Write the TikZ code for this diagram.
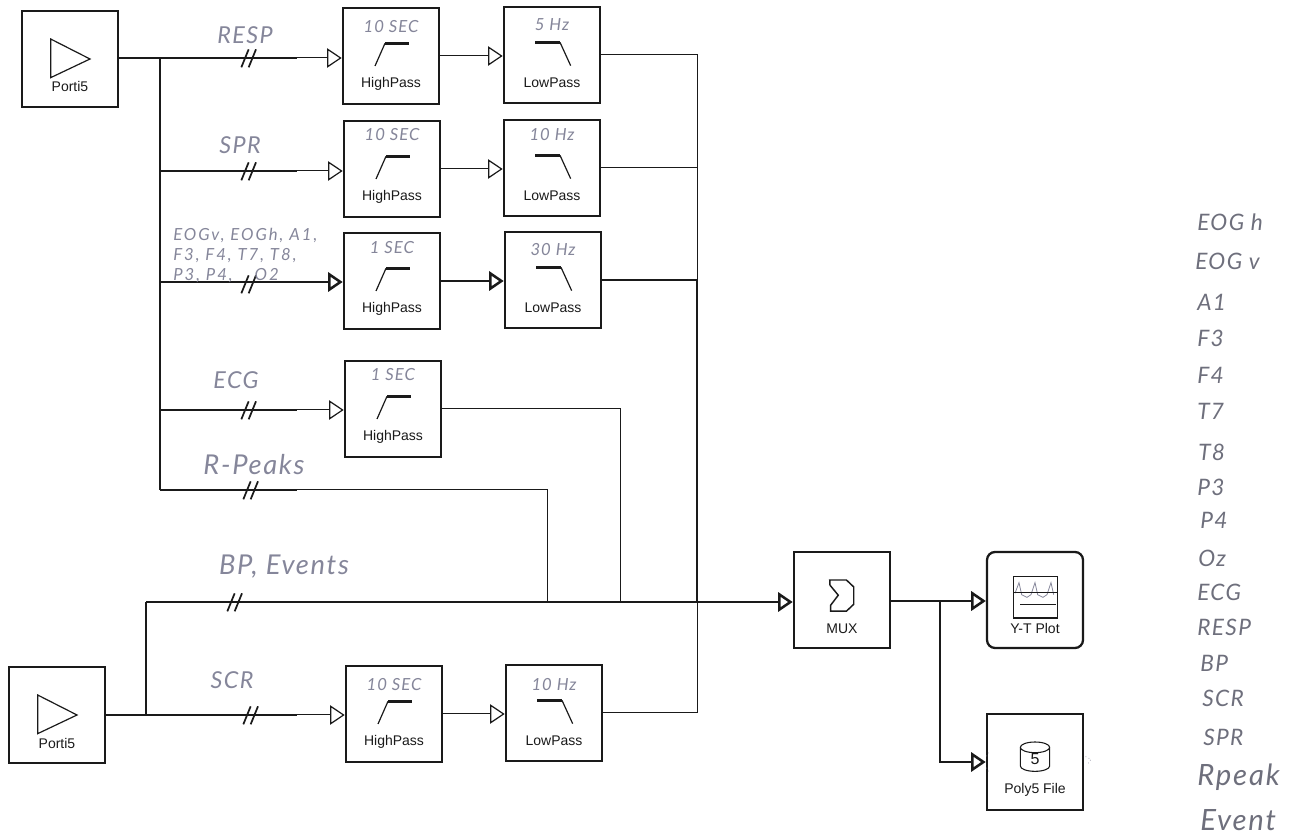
\documentclass[tikz,border=0pt]{standalone}
\usepackage{fontspec}
\setmainfont{Liberation Sans}
\newfontfamily\hand[LetterSpace=6]{Lato}
\newfontfamily\handwide[LetterSpace=12]{Lato}
\usetikzlibrary{arrows.meta}
\definecolor{hw}{HTML}{85869A}
\definecolor{hwd}{HTML}{6E6F7C}
\definecolor{ln}{HTML}{1A1A1A}
\tikzset{
 blk/.style={draw=ln,line width=1.9pt,fill=white,minimum width=72pt,minimum height=72pt,inner sep=0pt},
 lbl/.style={font=\fontsize{10.5}{12}\selectfont,text=ln,inner sep=0pt},
 hwb/.style={font=\fontsize{12.5}{13}\hand\itshape\selectfont,text=hw,inner sep=0pt},
 hwc/.style={font=\fontsize{12.5}{14}\handwide\itshape\selectfont,text=hw,inner sep=0pt,anchor=west},
 hwl/.style={font=\fontsize{17.5}{18}\hand\itshape\selectfont,text=hw,inner sep=0pt},
 hwk/.style={font=\fontsize{20.5}{21}\hand\itshape\selectfont,text=hw,inner sep=0pt},
 hwr/.style={font=\fontsize{17}{18}\hand\itshape\selectfont,text=hwd,inner sep=0pt,anchor=west},
 hwq/.style={font=\fontsize{22}{23}\hand\itshape\selectfont,text=hwd,inner sep=0pt,anchor=west},
 thick line/.style={draw=ln,line width=2.25pt},
 mid line/.style={draw=ln,line width=1.5pt},
 thin line/.style={draw=ln,line width=.75pt},
 thin arrow/.style={draw=ln,line width=.75pt,-{Triangle[open,length=11pt,width=14.5pt,line width=.9pt]}},
 heavy arrow/.style={draw=ln,line width=1.5pt,-{Triangle[open,length=11pt,width=14.5pt,line width=1.9pt]}},
 slashes/.style={draw=ln,line width=1.3pt},
 icon/.style={draw=ln,line width=.9pt},
 iconb/.style={draw=ln,line width=1.8pt},
}
% name, centre x, centre y, handwritten text, y of the handwritten text
\newcommand\hpblk[5]{%
 \node[blk] (#1) at (#2,#3) {};
 \node[lbl] (#1t) at ([yshift=-21pt]#1.center) {HighPass};
 \node[hwb] (#1h) at (#2,#5) {#4};
 \draw[icon] ([shift={(-12pt,-7.5pt)}]#1.center) -- ([shift={(-4.5pt,9.5pt)}]#1.center);
 \draw[iconb] ([shift={(-4.5pt,9.5pt)}]#1.center) -- ([shift={(13.5pt,9.5pt)}]#1.center);
}
\newcommand\lpblk[5]{%
 \node[blk] (#1) at (#2,#3) {};
 \node[lbl] (#1t) at ([yshift=-21pt]#1.center) {LowPass};
 \node[hwb] (#1h) at (#2,#5) {#4};
 \draw[iconb] ([shift={(-12.5pt,9.5pt)}]#1.center) -- ([shift={(6pt,9.5pt)}]#1.center);
 \draw[icon] ([shift={(6pt,9.5pt)}]#1.center) -- ([shift={(14pt,-8pt)}]#1.center);
}
\newcommand\portiblk[3]{%
 \node[blk] (#1) at (#2,#3) {};
 \node[lbl] (#1t) at ([yshift=-21pt]#1.center) {Porti5};
 \draw[icon] ([shift={(-14.5pt,15pt)}]#1.center) -- ([shift={(15pt,0pt)}]#1.center) -- ([shift={(-14.5pt,-14pt)}]#1.center) -- cycle;
}
\newcommand\brk[1]{%
 \draw[slashes] ([shift={(-5pt,-7pt)}]#1) -- ([shift={(.5pt,6.5pt)}]#1);
 \draw[slashes] ([shift={(.5pt,-7pt)}]#1) -- ([shift={(6pt,6.5pt)}]#1);
}
\begin{document}
\begin{tikzpicture}[x=.75pt,y=-.75pt]
\useasboundingbox (0,0) rectangle (1290,837);
% blocks
\portiblk{pa}{70}{59}
\portiblk{pb}{57}{715}
\hpblk{hpa}{391}{56}{10 SEC}{27}
\lpblk{lpa}{552}{55}{5 Hz}{25}
\hpblk{hpb}{392}{169}{10 SEC}{135}
\lpblk{lpb}{552}{168}{10 Hz}{135}
\hpblk{hpc}{392}{281}{1 SEC}{248}
\lpblk{lpc}{553}{280}{30 Hz}{250}
\hpblk{hpd}{393}{409}{1 SEC}{375}
\hpblk{hpe}{394}{714}{10 SEC}{685}
\lpblk{lpe}{554}{713}{10 Hz}{685}
\node[blk] (mux) at (842,600) {};
\node[lbl] (muxt) at ([yshift=-21.5pt]mux.center) {MUX};
\draw[icon,line width=1.1pt] ([shift={(-9.2pt,15pt)}]mux.center) -- ++(12.5pt,0) -- ++(5.5pt,-5.2pt) -- ++(0,-13pt) -- ++(-5.5pt,-5.2pt) -- ++(-11.8pt,0) -- ++(0,4.5pt) -- ++(5.7pt,7.5pt) -- ++(-6.2pt,7.5pt) -- cycle;
\node[blk,rounded corners=6pt,line width=1.7pt] (yt) at (1035,600) {};
\node[lbl] (ytt) at ([yshift=-21pt]yt.center) {Y-T Plot};
\draw[draw=ln,line width=1pt,fill=white] ([shift={(-16pt,17.5pt)}]yt.center) rectangle ([shift={(17pt,-13.5pt)}]yt.center);
\draw[draw=hw,line width=.6pt] ([shift={(-15pt,5pt)}]yt.center) -- ++(3pt,8pt) -- ++(2pt,-9pt) -- ++(4pt,-2pt) -- ++(3pt,2pt) -- ++(3pt,9pt) -- ++(2pt,-9pt) -- ++(4pt,-2pt) -- ++(3pt,2pt) -- ++(3pt,9pt) -- ++(2pt,-9pt);
\draw[draw=ln,line width=.5pt] ([shift={(-15.5pt,5.5pt)}]yt.center) -- ([shift={(16.5pt,5.5pt)}]yt.center);
\draw[draw=ln,line width=.9pt] ([shift={(-11pt,-3.5pt)}]yt.center) -- ([shift={(16pt,-3.5pt)}]yt.center);
\node[blk] (pf) at (1035,762) {};
\node[lbl] (pft) at ([yshift=-21pt]pf.center) {Poly5 File};
\draw[icon,line width=.8pt,fill=white] ([shift={(-11pt,11pt)}]pf.center) -- ([shift={(-11pt,-3pt)}]pf.center) arc[start angle=180,end angle=360,x radius=11pt,y radius=4pt] -- ([shift={(11pt,11pt)}]pf.center) arc[start angle=0,end angle=180,x radius=11pt,y radius=4pt] -- cycle;
\draw[icon,line width=.8pt] ([shift={(-11pt,11pt)}]pf.center) arc[start angle=180,end angle=360,x radius=11pt,y radius=4pt];
\node[lbl,font=\fontsize{12}{12}\selectfont] (pfi) at ([yshift=2.5pt]pf.center) {5};
\draw[draw=hw,line width=.5pt,dotted] ([shift={(1pt,4pt)}]pf.east) -- ++(4pt,-2pt) -- ++(-2pt,-3pt);
\draw[draw=hw,line width=.5pt,dotted] ([shift={(2pt,7pt)}]pf.west) -- ++(-2pt,-4pt);
\draw[draw=hw,line width=.5pt,dotted] ([shift={(2pt,-7pt)}]pf.west) -- ++(-2pt,4pt);
% branch points
\coordinate (busa) at (160,58);
\coordinate (busb) at (160,171);
\coordinate (busc) at (160,282);
\coordinate (busd) at (160,410);
\coordinate (buse) at (160,490);
\coordinate (busf) at (146,602);
\coordinate (busg) at (146,715);
\coordinate (ta) at (297,58);
\coordinate (tb) at (297,171);
\coordinate (td) at (297,410);
\coordinate (te) at (297,490);
\coordinate (tg) at (297,715);
\coordinate (ra) at (547,602);
\coordinate (rb) at (620,602);
\coordinate (rc) at (697,602);
\coordinate (mb) at (940,601);
% thin ends
\draw[thin arrow] (ta) -- (ta -| hpa.west);
\draw[thin arrow] (tb) -- (tb -| hpb.west);
\draw[thin arrow] (td) -- (td -| hpd.west);
\draw[thin arrow] (tg) -- (tg -| hpe.west);
\draw[heavy arrow] (busc) -- (busc -| hpc.west);
\draw[thin arrow] (hpa.east) -- (lpa.west |- hpa.east);
\draw[thin arrow] (hpb.east) -- (lpb.west |- hpb.east);
\draw[heavy arrow] (hpc.east) -- (lpc.west |- hpc.east);
\draw[thin arrow] (hpe.east) -- (lpe.west |- hpe.east);
% thick trunks
\draw[mid line] (pa.east |- busa) -- (ta);
\draw[mid line] (busa) -- (buse);
\draw[mid line] (busb) -- (tb);
\draw[mid line] (busd) -- (td);
\draw[mid line] (buse) -- (te);
\draw[mid line] (pb.east) -- (tg);
\draw[mid line] (busg) -- (busf);
% to the mux
\draw[thin line] (lpa.east) -| (rc);
\draw[thin line] (lpb.east) -- (lpb.east -| rc);
\draw[thin line] (lpe.east) -| (rc);
\draw[thin line] (hpd.east) -| (rb);
\draw[thin line] (te) -| (ra);
\draw[mid line] (lpc.east) -| (rc);
\draw[mid line] (busf) -- (rc);
\draw[heavy arrow] (rc) -- (mux.west |- rc);
% out of the mux
\draw[mid line] (mux.east |- mb) -- (mb);
\draw[heavy arrow] (mb) -- (yt.west |- mb);
\draw[heavy arrow] (mb) |- (pf.west);
% double strokes
\coordinate (sa) at (248,58);\brk{sa}
\coordinate (sb) at (248,171);\brk{sb}
\coordinate (sc) at (248,284);\brk{sc}
\coordinate (sd) at (248,410);\brk{sd}
\coordinate (se) at (250,490);\brk{se}
\coordinate (sf) at (234,602);\brk{sf}
\coordinate (sg) at (250,715);\brk{sg}
% handwritten labels
\node[hwl] (la) at (245,35) {RESP};
\node[hwl] (lb) at (240,145) {SPR};
\node[hwc] (lc1) at (173,235) {EOGv, EOGh, A1,};
\node[hwc] (lc2) at (173,256) {F3, F4, T7, T8,};
\node[hwc] (lc3) at (173,276) {P3, P4, \hspace{12pt}O2};
\node[hwl] (ld) at (236,380) {ECG};
\node[hwk] (le) at (254,465) {R-Peaks};
\node[hwk] (lf) at (284,567) {BP, Events};
\node[hwl] (lg) at (232,680) {SCR};
% list on the right
\node[hwr] (r1) at (1197,222) {EOG h};
\node[hwr] (r2) at (1195,261) {EOG v};
\node[hwr] (r3) at (1197,302) {A1};
\node[hwr] (r4) at (1197,338) {F3};
\node[hwr] (r5) at (1197,375) {F4};
\node[hwr] (r6) at (1197,411) {T7};
\node[hwr] (r7) at (1198,452) {T8};
\node[hwr] (r8) at (1197,487) {P3};
\node[hwr] (r9) at (1200,520) {P4};
\node[hwr] (r10) at (1198,558) {Oz};
\node[hwr] (r11) at (1197,592) {ECG};
\node[hwr] (r12) at (1197,627) {RESP};
\node[hwr] (r13) at (1200,663) {BP};
\node[hwr] (r14) at (1202,698) {SCR};
\node[hwr] (r15) at (1203,737) {SPR};
\node[hwq] (r16) at (1197,777) {Rpeak};
\node[hwq] (r17) at (1200,820) {Event};
\end{tikzpicture}
\end{document}
